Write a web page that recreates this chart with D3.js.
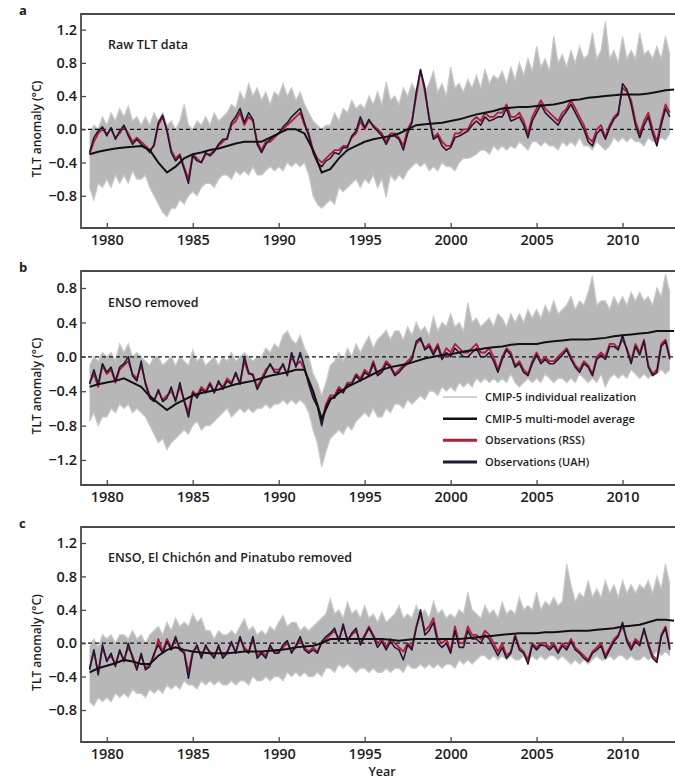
<!DOCTYPE html>
<html>
<head>
<meta charset="utf-8">
<script src="https://cdn.jsdelivr.net/npm/d3@7"></script>
<style>
  body { margin: 0; background: #fff; }
  svg text { font-family: "Open Sans", sans-serif; fill: #1c1c1c; }
</style>
</head>
<body>
<div id="chart"></div>
<script>
// time grids: quarterly for observations and model spread, half-yearly for the model mean
const quarterYears = d3.range(1979, 2013, 0.25);
const halfYears = d3.range(1979, 2013.01, 0.5);

const xTicks = [1980, 1985, 1990, 1995, 2000, 2005, 2010];

// ---- panel a: raw TLT data ----
const rssRaw = [
  -0.30,-0.15,-0.05,0.00, -0.05,0.00,-0.10,-0.05, 0.03,-0.05,-0.15,-0.10, -0.15,-0.20,-0.25,-0.20,
  0.05,0.15,0.00,-0.25, -0.35,-0.30,-0.45,-0.60, -0.30,-0.35,-0.40,-0.30, -0.30,-0.25,-0.20,-0.15,
  -0.10,0.05,0.10,0.20, 0.05,0.15,0.10,-0.15, -0.25,-0.15,-0.15,-0.10, -0.05,0.00,0.05,0.10,
  0.15,0.20,0.05,-0.05, -0.25,-0.35,-0.40,-0.35, -0.30,-0.25,-0.25,-0.20, -0.20,-0.10,-0.05,0.10,
  0.00,0.10,0.05,0.00, -0.05,-0.15,-0.05,-0.05, -0.10,-0.20,0.00,0.10, 0.40,0.70,0.45,0.15,
  -0.10,-0.05,-0.15,-0.20, -0.20,-0.05,-0.05,0.00, 0.00,0.10,0.15,0.10, 0.20,0.15,0.15,0.20,
  0.20,0.30,0.15,0.15, 0.20,0.10,-0.05,0.15, 0.25,0.35,0.25,0.20, 0.15,0.10,0.20,0.25,
  0.35,0.25,0.15,0.05, -0.10,-0.15,0.00,0.05, -0.10,0.05,0.15,0.20, 0.50,0.45,0.35,0.10,
  -0.05,0.10,0.20,0.00, -0.15,0.10,0.30,0.20
];
const uahRaw = [
  -0.28,-0.10,-0.02,0.03, -0.08,0.02,-0.12,-0.02, 0.05,-0.08,-0.18,-0.12, -0.18,-0.22,-0.28,-0.18,
  0.08,0.17,-0.02,-0.28, -0.38,-0.32,-0.48,-0.65, -0.32,-0.38,-0.40,-0.28, -0.32,-0.27,-0.18,-0.12,
  -0.12,0.08,0.15,0.25, 0.08,0.20,0.12,-0.18, -0.28,-0.18,-0.12,-0.08, -0.05,0.03,0.08,0.15,
  0.20,0.25,0.08,-0.08, -0.28,-0.40,-0.45,-0.38, -0.35,-0.28,-0.30,-0.22, -0.22,-0.08,-0.02,0.15,
  0.02,0.12,0.03,-0.02, -0.08,-0.18,-0.08,-0.08, -0.12,-0.25,-0.05,0.08, 0.45,0.72,0.50,0.12,
  -0.12,-0.08,-0.20,-0.25, -0.22,-0.10,-0.08,-0.05, -0.02,0.05,0.10,0.05, 0.15,0.10,0.12,0.15,
  0.15,0.25,0.10,0.12, 0.15,0.05,-0.10,0.10, 0.20,0.30,0.20,0.15, 0.10,0.05,0.15,0.22,
  0.30,0.20,0.10,0.00, -0.15,-0.20,-0.05,0.00, -0.12,0.02,0.12,0.18, 0.55,0.48,0.30,0.05,
  -0.10,0.05,0.15,-0.05, -0.20,0.05,0.25,0.15
];
const mmmRaw = [
  -0.30,-0.27, -0.25,-0.23, -0.22,-0.21, -0.20,-0.25, -0.40,-0.52, -0.45,-0.35, -0.30,-0.28,
  -0.25,-0.23, -0.20,-0.17, -0.15,-0.15, -0.15,-0.10, -0.05,0.00, 0.00,-0.05, -0.25,-0.52,
  -0.48,-0.35, -0.25,-0.20, -0.15,-0.12, -0.10,-0.08, -0.05,0.00, 0.05,0.06, 0.07,0.08,
  0.10,0.12, 0.15,0.18, 0.20,0.22, 0.25,0.26, 0.27,0.27, 0.28,0.29, 0.30,0.32, 0.35,0.36,
  0.38,0.39, 0.40,0.41, 0.42,0.42, 0.42,0.43, 0.45,0.47, 0.48
];
const bandHiRaw = [
  -0.05,0.05,0.00,0.15, 0.05,0.20,0.10,0.25, 0.15,0.28,0.10,0.15, 0.05,0.15,0.05,0.20,
  0.10,0.20,0.05,0.10, 0.00,0.10,0.30,0.05, 0.00,0.10,0.05,0.15, 0.05,0.20,0.10,0.15,
  0.20,0.30,0.25,0.45, 0.35,0.55,0.40,0.50, 0.35,0.45,0.30,0.45, 0.40,0.55,0.40,0.50,
  0.35,0.45,0.30,0.20, 0.10,0.05,0.00,0.05, 0.05,0.20,0.10,0.25, 0.20,0.35,0.25,0.30,
  0.25,0.40,0.30,0.45, 0.30,0.57,0.35,0.40, 0.30,0.50,0.40,0.55, 0.45,0.60,0.45,0.55,
  0.70,0.45,0.55,0.40, 0.75,0.50,0.55,0.45, 0.60,0.50,0.65,0.50, 0.72,0.55,0.65,0.60,
  0.70,0.55,0.75,0.60, 0.80,0.65,0.85,0.70, 1.00,0.75,0.85,0.70, 1.12,0.80,0.90,0.75,
  0.95,0.80,1.00,0.85, 0.90,1.16,0.85,0.95, 1.30,0.85,0.95,0.80, 1.12,0.85,0.95,0.85,
  1.16,0.90,0.95,0.85, 1.00,0.85,1.12,0.90
];
const bandLoRaw = [
  -0.70,-0.85,-0.65,-0.70, -0.60,-0.70,-0.55,-0.65, -0.55,-0.65,-0.50,-0.60, -0.60,-0.55,-0.70,-0.80,
  -0.90,-1.00,-1.05,-0.95, -0.95,-0.85,-0.90,-0.80, -0.75,-0.80,-0.70,-0.65, -0.65,-0.70,-0.60,-0.55,
  -0.55,-0.60,-0.50,-0.55, -0.50,-0.55,-0.45,-0.55, -0.55,-0.50,-0.45,-0.50, -0.45,-0.50,-0.40,-0.45,
  -0.40,-0.45,-0.40,-0.55, -0.80,-0.90,-0.95,-0.90, -0.85,-0.90,-0.70,-0.75, -0.70,-0.65,-0.60,-0.70,
  -0.60,-0.65,-0.55,-0.70, -0.60,-0.82,-0.55,-0.62, -0.55,-0.60,-0.50,-0.45, -0.40,-0.45,-0.40,-0.50,
  -0.45,-0.50,-0.40,-0.45, -0.45,-0.50,-0.40,-0.35, -0.35,-0.33,-0.30,-0.25, -0.25,-0.30,-0.20,-0.25,
  -0.20,-0.25,-0.20,-0.23, -0.15,-0.20,-0.25,-0.15, -0.15,-0.20,-0.15,-0.20, -0.20,-0.25,-0.15,-0.20,
  -0.15,-0.20,-0.10,-0.20, -0.20,-0.25,-0.15,-0.20, -0.25,-0.20,-0.10,-0.15, -0.10,-0.15,-0.10,-0.15,
  -0.15,-0.20,-0.10,-0.15, -0.15,-0.10,-0.13,-0.05
];

// ---- panel b: ENSO removed ----
const rssEnso = [
  -0.30,-0.20,-0.35,-0.10, -0.20,-0.15,-0.30,-0.15, -0.10,-0.05,-0.20,-0.25, -0.10,-0.30,-0.45,-0.50,
  -0.40,-0.50,-0.45,-0.40, -0.50,-0.35,-0.50,-0.65, -0.40,-0.45,-0.35,-0.40, -0.30,-0.40,-0.30,-0.35,
  -0.25,-0.30,-0.20,-0.30, -0.05,-0.20,-0.20,-0.35, -0.25,-0.15,-0.10,-0.15, -0.15,-0.10,-0.20,0.00,
  -0.10,-0.05,-0.15,-0.30, -0.45,-0.55,-0.75,-0.55, -0.45,-0.45,-0.35,-0.40, -0.30,-0.30,-0.20,-0.25,
  -0.15,-0.20,-0.05,-0.20, -0.15,-0.05,-0.10,-0.20, -0.15,-0.10,-0.05,0.00, 0.15,0.20,0.10,0.15,
  0.05,0.15,0.00,0.10, 0.05,0.15,0.10,0.05, 0.05,0.10,0.15,0.05, 0.05,0.10,0.00,-0.15,
  0.00,0.10,0.05,-0.10, -0.05,-0.15,-0.20,-0.05, 0.05,-0.05,0.00,-0.05, -0.05,0.00,0.05,0.10,
  0.00,-0.10,-0.15,-0.05, -0.10,-0.20,0.00,0.05, 0.00,0.15,0.15,0.10, 0.20,0.10,-0.05,0.15,
  0.05,0.20,-0.10,-0.20, -0.15,0.15,0.20,0.00
];
const uahEnso = [
  -0.32,-0.15,-0.32,-0.08, -0.18,-0.12,-0.28,-0.12, -0.08,0.00,-0.22,-0.28, -0.05,-0.32,-0.48,-0.52,
  -0.38,-0.52,-0.48,-0.35, -0.52,-0.30,-0.52,-0.70, -0.42,-0.48,-0.38,-0.42, -0.32,-0.42,-0.28,-0.38,
  -0.28,-0.32,-0.18,-0.32, 0.00,-0.18,-0.22,-0.38, -0.28,-0.18,-0.08,-0.18, -0.18,-0.08,-0.22,0.05,
  -0.12,0.05,-0.12,-0.32, -0.48,-0.58,-0.80,-0.58, -0.48,-0.48,-0.38,-0.42, -0.32,-0.32,-0.22,-0.28,
  -0.18,-0.22,-0.08,-0.22, -0.18,-0.08,-0.12,-0.22, -0.18,-0.12,-0.08,-0.03, 0.18,0.22,0.08,0.12,
  0.02,0.12,-0.03,0.05, 0.00,0.10,0.05,0.00, 0.00,0.05,0.10,0.00, 0.00,0.05,-0.05,-0.18,
  -0.03,0.08,0.02,-0.12, -0.08,-0.18,-0.22,-0.08, 0.02,-0.08,-0.03,-0.08, -0.08,-0.03,0.02,0.08,
  -0.03,-0.12,-0.18,-0.08, -0.12,-0.22,-0.03,0.02, -0.03,0.12,0.12,0.08, 0.25,0.08,-0.08,0.12,
  0.02,0.18,-0.12,-0.22, -0.18,0.12,0.18,-0.03
];
const mmmEnso = [
  -0.35,-0.32, -0.30,-0.28, -0.25,-0.30, -0.35,-0.46, -0.54,-0.62, -0.55,-0.50, -0.45,-0.42,
  -0.40,-0.38, -0.35,-0.32, -0.30,-0.28, -0.25,-0.22, -0.20,-0.18, -0.15,-0.15, -0.40,-0.72,
  -0.50,-0.42, -0.35,-0.30, -0.25,-0.20, -0.15,-0.12, -0.10,-0.08, -0.05,-0.02, 0.00,0.02,
  0.03,0.05, 0.07,0.08, 0.10,0.11, 0.12,0.14, 0.15,0.15, 0.15,0.17, 0.18,0.19, 0.20,0.20,
  0.20,0.21, 0.22,0.24, 0.25,0.26, 0.27,0.28, 0.30,0.30, 0.30
];
const bandHiEnso = [
  -0.10,0.00,-0.05,0.05, 0.00,0.05,-0.05,0.15, 0.05,0.15,0.00,0.05, 0.00,-0.05,-0.10,0.00,
  0.00,-0.10,-0.05,0.00, -0.10,0.00,-0.05,-0.10, 0.08,-0.05,0.00,-0.10, -0.05,0.00,-0.10,0.00,
  -0.05,0.05,-0.05,0.00, 0.05,0.00,-0.05,0.00, 0.00,0.10,0.05,0.15, 0.10,0.25,0.30,0.20,
  0.15,0.25,0.10,0.00, -0.20,-0.30,-0.45,-0.30, -0.10,-0.05,0.05,-0.05, 0.10,0.00,0.15,0.05,
  0.15,0.24,0.10,0.20, 0.25,0.31,0.20,0.30, 0.30,0.20,0.35,0.25, 0.40,0.30,0.35,0.25,
  0.47,0.30,0.40,0.35, 0.50,0.35,0.40,0.30, 0.63,0.40,0.45,0.35, 0.40,0.45,0.35,0.50,
  0.45,0.35,0.50,0.40, 0.50,0.40,0.55,0.45, 0.55,0.45,0.60,0.50, 0.65,0.50,0.55,0.60,
  0.70,0.55,0.65,0.60, 0.75,0.94,0.60,0.65, 0.65,0.55,0.70,0.60, 0.70,0.60,0.75,0.65,
  0.75,0.65,0.70,0.60, 0.80,0.70,0.96,0.75
];
const bandLoEnso = [
  -0.75,-0.65,-0.80,-0.70, -0.70,-0.60,-0.65,-0.55, -0.60,-0.55,-0.65,-0.60, -0.65,-0.70,-0.80,-0.90,
  -1.00,-0.95,-1.08,-1.00, -0.95,-0.90,-0.85,-0.90, -0.80,-0.75,-0.85,-0.80, -0.80,-0.75,-0.70,-0.65,
  -0.60,-0.70,-0.65,-0.60, -0.65,-0.60,-0.65,-0.60, -0.60,-0.55,-0.60,-0.55, -0.55,-0.50,-0.55,-0.50,
  -0.55,-0.50,-0.55,-0.65, -0.85,-1.00,-1.28,-1.10, -0.95,-0.90,-0.85,-0.90, -0.80,-0.85,-0.75,-0.70,
  -0.65,-0.70,-0.60,-0.70, -0.70,-0.60,-0.65,-0.55, -0.55,-0.60,-0.50,-0.55, -0.50,-0.45,-0.50,-0.40,
  -0.40,-0.45,-0.35,-0.40, -0.35,-0.40,-0.30,-0.35, -0.30,-0.35,-0.25,-0.30, -0.25,-0.30,-0.25,-0.30,
  -0.25,-0.30,-0.20,-0.30, -0.35,-0.30,-0.25,-0.30, -0.25,-0.30,-0.20,-0.25, -0.30,-0.25,-0.25,-0.30,
  -0.25,-0.30,-0.20,-0.25, -0.30,-0.25,-0.30,-0.20, -0.35,-0.25,-0.20,-0.25, -0.20,-0.25,-0.15,-0.20,
  -0.25,-0.20,-0.25,-0.20, -0.20,-0.15,-0.20,-0.15
];

// ---- panel c: ENSO, El Chichon and Pinatubo removed ----
const rssVolc = [
  -0.30,-0.10,-0.35,-0.05, -0.20,-0.15,-0.25,-0.10, -0.20,-0.05,-0.15,-0.30, -0.15,-0.30,-0.25,-0.15,
  0.05,-0.10,0.05,-0.05, 0.05,-0.05,-0.10,-0.35, -0.10,-0.05,-0.15,-0.05, -0.10,-0.15,-0.05,-0.15,
  -0.10,0.00,-0.10,0.05, -0.05,-0.10,0.05,-0.15, -0.10,-0.15,-0.05,-0.10, -0.10,-0.05,0.00,-0.10,
  -0.05,0.05,-0.05,-0.10, -0.05,-0.10,0.00,0.05, 0.10,0.15,0.05,0.20, 0.05,0.10,0.15,0.00,
  0.10,0.20,0.10,0.00, 0.05,-0.05,0.05,0.00, -0.05,-0.10,0.00,-0.05, 0.20,0.35,0.15,0.20,
  0.30,0.05,0.00,0.05, -0.10,0.20,0.00,0.00, 0.20,0.10,0.10,0.05, 0.15,0.10,0.00,-0.10,
  0.00,-0.15,-0.10,0.10, -0.05,-0.10,-0.20,0.00, -0.05,0.00,0.00,-0.05, 0.00,-0.10,0.00,-0.05,
  0.05,-0.05,-0.10,-0.15, -0.20,-0.10,-0.05,0.00, -0.15,-0.05,0.05,0.10, 0.20,0.05,-0.05,0.05,
  0.00,0.15,0.00,-0.15, -0.20,0.10,0.20,-0.05
];
const uahVolc = [
  -0.32,-0.08,-0.38,-0.02, -0.22,-0.12,-0.28,-0.08, -0.22,0.00,-0.18,-0.32, -0.12,-0.32,-0.28,-0.12,
  -0.02,-0.12,0.02,-0.08, 0.08,-0.08,-0.12,-0.42, -0.12,-0.02,-0.18,-0.02, -0.12,-0.18,-0.02,-0.18,
  -0.12,0.02,-0.12,0.08, -0.08,-0.12,0.08,-0.18, -0.12,-0.18,-0.02,-0.12, -0.12,-0.02,0.03,-0.12,
  -0.03,0.08,-0.08,-0.12, -0.08,-0.12,0.02,0.08, 0.12,0.18,0.02,0.23, 0.02,0.12,0.18,-0.02,
  0.08,0.18,0.08,-0.05, 0.02,-0.08,0.02,-0.05, -0.08,-0.20,-0.02,-0.08, 0.18,0.40,0.10,0.15,
  0.25,0.00,-0.05,0.00, -0.12,0.15,-0.05,-0.05, 0.15,0.05,0.05,0.00, 0.10,0.05,-0.05,-0.15,
  -0.05,-0.18,-0.12,0.08, -0.08,-0.12,-0.25,-0.02, -0.08,-0.02,-0.03,-0.08, -0.03,-0.12,-0.03,-0.08,
  0.02,-0.08,-0.12,-0.18, -0.22,-0.12,-0.08,-0.03, -0.18,-0.08,0.02,0.08, 0.25,0.02,-0.08,0.02,
  -0.03,0.18,-0.03,-0.18, -0.23,0.08,0.18,-0.08
];
const mmmVolc = [
  -0.35,-0.30, -0.27,-0.24, -0.20,-0.22, -0.25,-0.25, -0.15,-0.08, -0.05,-0.08, -0.10,-0.11,
  -0.12,-0.12, -0.12,-0.11, -0.10,-0.10, -0.10,-0.09, -0.08,-0.07, -0.05,-0.04, -0.03,0.00,
  0.05,0.05, 0.05,0.05, 0.05,0.05, 0.05,0.04, 0.03,0.04, 0.05,0.05, 0.05,0.05,
  0.05,0.05, 0.06,0.07, 0.08,0.09, 0.10,0.11, 0.12,0.12, 0.12,0.13, 0.13,0.14, 0.15,0.15,
  0.15,0.16, 0.17,0.18, 0.20,0.21, 0.22,0.25, 0.28,0.28, 0.27
];
const bandHiVolc = [
  -0.05,0.05,-0.05,0.10, 0.05,0.10,0.00,0.10, 0.10,0.05,0.15,0.05, 0.10,0.00,0.10,0.15,
  0.20,0.10,0.25,0.15, 0.30,0.20,0.25,0.20, 0.35,0.25,0.30,0.15, 0.15,0.05,0.15,0.10,
  0.10,0.15,0.10,0.20, 0.29,0.15,0.20,0.10, 0.15,0.10,0.20,0.15, 0.25,0.33,0.20,0.25,
  0.25,0.15,0.20,0.15, 0.20,0.25,0.30,0.35, 0.53,0.35,0.40,0.30, 0.49,0.35,0.40,0.30,
  0.45,0.30,0.35,0.25, 0.37,0.25,0.30,0.35, 0.45,0.30,0.35,0.30, 0.45,0.35,0.40,0.30,
  0.50,0.35,0.40,0.30, 0.35,0.30,0.40,0.35, 0.61,0.40,0.35,0.30, 0.45,0.35,0.40,0.30,
  0.49,0.35,0.40,0.35, 0.55,0.40,0.45,0.40, 0.61,0.40,0.50,0.45, 0.55,0.45,0.50,0.95,
  0.70,0.50,0.60,0.55, 0.75,0.55,0.65,0.55, 0.75,0.60,0.70,0.55, 0.75,0.60,0.70,0.60,
  0.70,0.65,0.75,0.60, 0.80,0.65,0.95,0.70
];
const bandLoVolc = [
  -0.70,-0.75,-0.65,-0.70, -0.65,-0.70,-0.60,-0.65, -0.60,-0.65,-0.55,-0.60, -0.60,-0.65,-0.55,-0.60,
  -0.55,-0.60,-0.50,-0.55, -0.50,-0.55,-0.45,-0.50, -0.50,-0.55,-0.45,-0.50, -0.45,-0.50,-0.45,-0.50,
  -0.50,-0.45,-0.50,-0.45, -0.45,-0.50,-0.40,-0.45, -0.45,-0.40,-0.45,-0.40, -0.40,-0.45,-0.35,-0.40,
  -0.35,-0.40,-0.35,-0.40, -0.40,-0.35,-0.40,-0.30, -0.30,-0.35,-0.25,-0.30, -0.25,-0.30,-0.35,-0.30,
  -0.30,-0.35,-0.30,-0.35, -0.35,-0.30,-0.35,-0.30, -0.30,-0.35,-0.25,-0.30, -0.30,-0.25,-0.30,-0.25,
  -0.30,-0.25,-0.30,-0.25, -0.25,-0.30,-0.20,-0.25, -0.20,-0.25,-0.20,-0.15, -0.15,-0.20,-0.15,-0.20,
  -0.15,-0.20,-0.15,-0.20, -0.20,-0.15,-0.20,-0.15, -0.20,-0.15,-0.20,-0.15, -0.15,-0.20,-0.15,-0.20,
  -0.25,-0.20,-0.25,-0.20, -0.25,-0.20,-0.15,-0.20, -0.20,-0.15,-0.20,-0.15, -0.15,-0.20,-0.15,-0.20,
  -0.20,-0.15,-0.20,-0.15, -0.10,-0.15,-0.10,-0.15
];

const legendLabels = [
  "CMIP-5 individual realization",
  "CMIP-5 multi-model average",
  "Observations (RSS)",
  "Observations (UAH)"
];

const colors = { band: "#b7b7b7", bandEdge: "#c9c9c9", mmm: "#111111", rss: "#c0183a", uah: "#1e1838", frame: "#4a4a4a" };

const panels = [
  { letter: "a", title: "Raw TLT data", top: 14, bottom: 228, domain: [-1.2, 1.4], range: [229, 13],
    ticks: [-0.8, -0.4, 0, 0.4, 0.8, 1.2], rss: rssRaw, uah: uahRaw, mmm: mmmRaw, hi: bandHiRaw, lo: bandLoRaw },
  { letter: "b", title: "ENSO removed", top: 271, bottom: 485, domain: [-1.5, 1.0], range: [485.8, 270.8],
    ticks: [-1.2, -0.8, -0.4, 0, 0.4, 0.8], rss: rssEnso, uah: uahEnso, mmm: mmmEnso, hi: bandHiEnso, lo: bandLoEnso, legend: true },
  { letter: "c", title: "ENSO, El Chichón and Pinatubo removed", top: 527, bottom: 742, domain: [-1.2, 1.4], range: [743.4, 526.3],
    ticks: [-0.8, -0.4, 0, 0.4, 0.8, 1.2], rss: rssVolc, uah: uahVolc, mmm: mmmVolc, hi: bandHiVolc, lo: bandLoVolc }
];

const width = 675, height = 782;
const plotLeft = 81, plotRight = 681;

const svg = d3.select("#chart").append("svg")
  .attr("width", width)
  .attr("height", height);

const xScale = d3.scaleLinear()
  .domain([1978.5, 2013.4])
  .range([plotLeft, plotRight]);

const fmt = (d) => d3.format(".1f")(d).replace("-", "\u2212");

panels.forEach((p, i) => {
  const yScale = d3.scaleLinear().domain(p.domain).range(p.range);
  const g = svg.append("g");

  g.append("clipPath").attr("id", "clip" + i)
    .append("rect")
    .attr("x", plotLeft).attr("y", p.top)
    .attr("width", plotRight - plotLeft).attr("height", p.bottom - p.top);

  const plot = g.append("g").attr("clip-path", `url(#clip${i})`);

  // model spread
  const band = quarterYears.map((yr, j) => ({ yr, hi: p.hi[j], lo: p.lo[j] }));
  plot.append("path")
    .attr("d", d3.area().x(d => xScale(d.yr)).y0(d => yScale(d.lo)).y1(d => yScale(d.hi))(band))
    .attr("fill", colors.band);
  ["hi", "lo"].forEach(k => {
    plot.append("path")
      .attr("d", d3.line().x(d => xScale(d.yr)).y(d => yScale(d[k]))(band))
      .attr("fill", "none").attr("stroke", colors.bandEdge).attr("stroke-width", 1.2);
  });

  // zero line
  plot.append("line")
    .attr("x1", plotLeft).attr("x2", plotRight)
    .attr("y1", yScale(0)).attr("y2", yScale(0))
    .attr("stroke", "#111").attr("stroke-width", 1.2).attr("stroke-dasharray", "4,3");

  const obsLine = d3.line().x((d, j) => xScale(quarterYears[j])).y(d => yScale(d));
  plot.append("path").attr("d", obsLine(p.rss))
    .attr("fill", "none").attr("stroke", colors.rss).attr("stroke-width", 1.8).attr("stroke-linejoin", "round");
  plot.append("path").attr("d", obsLine(p.uah))
    .attr("fill", "none").attr("stroke", colors.uah).attr("stroke-width", 1.6).attr("stroke-linejoin", "round");

  const mmmLine = d3.line().x((d, j) => xScale(halfYears[j])).y(d => yScale(d));
  plot.append("path").attr("d", mmmLine(p.mmm))
    .attr("fill", "none").attr("stroke", colors.mmm).attr("stroke-width", 2);

  // axes
  const yAxis = g.append("g")
    .attr("transform", `translate(${plotLeft},0)`)
    .call(d3.axisLeft(yScale).tickValues(p.ticks).tickFormat(fmt).tickSize(-5).tickSizeOuter(0).tickPadding(4));
  const xAxis = g.append("g")
    .attr("transform", `translate(0,${p.bottom})`)
    .call(d3.axisBottom(xScale).tickValues(xTicks).tickFormat(d3.format("d")).tickSize(-5).tickSizeOuter(0).tickPadding(7));

  [yAxis, xAxis].forEach(ax => {
    ax.select(".domain").remove();
    ax.selectAll(".tick line").attr("stroke", colors.frame).attr("stroke-width", 1.3);
    ax.selectAll(".tick text")
      .style("font-family", '"Open Sans", sans-serif')
      .style("font-size", "14.5px").style("font-weight", 600)
      .attr("fill", "#1c1c1c");
  });

  // frame: top, left, bottom
  g.append("path")
    .attr("d", `M${width},${p.top}H${plotLeft}V${p.bottom}H${width}`)
    .attr("fill", "none").attr("stroke", colors.frame).attr("stroke-width", 1.8);

  g.append("text")
    .attr("x", 19).attr("y", p.top + 1)
    .style("font-size", "13px").style("font-weight", 700)
    .text(p.letter);

  g.append("text")
    .attr("x", 108).attr("y", yScale(p.ticks[p.ticks.length - 1]) + 19)
    .style("font-size", "12.5px").style("font-weight", 600)
    .text(p.title);

  g.append("text")
    .attr("transform", `translate(41,${(p.top + p.bottom) / 2 + 8}) rotate(-90)`)
    .attr("text-anchor", "middle")
    .style("font-size", "12px").style("font-weight", 600)
    .text("TLT anomaly (°C)");

  if (p.legend) {
    const legendStyles = [
      { stroke: "#c2c2c2", w: 1.5 },
      { stroke: colors.mmm, w: 2.5 },
      { stroke: colors.rss, w: 3 },
      { stroke: colors.uah, w: 3 }
    ];
    const rowY = d3.scalePoint().domain(legendLabels).range([397, 462]);
    const lg = g.append("g");
    legendLabels.forEach((lab, j) => {
      lg.append("line")
        .attr("x1", 443).attr("x2", 477)
        .attr("y1", rowY(lab)).attr("y2", rowY(lab))
        .attr("stroke", legendStyles[j].stroke).attr("stroke-width", legendStyles[j].w);
      lg.append("text")
        .attr("x", 485).attr("y", rowY(lab)).attr("dy", "0.35em")
        .style("font-size", "11px").style("font-weight", 600)
        .text(lab);
    });
  }
});

svg.append("text")
  .attr("x", 382).attr("y", 776)
  .attr("text-anchor", "middle")
  .style("font-size", "12.5px").style("font-weight", 600)
  .text("Year");
</script>
</body>
</html>
